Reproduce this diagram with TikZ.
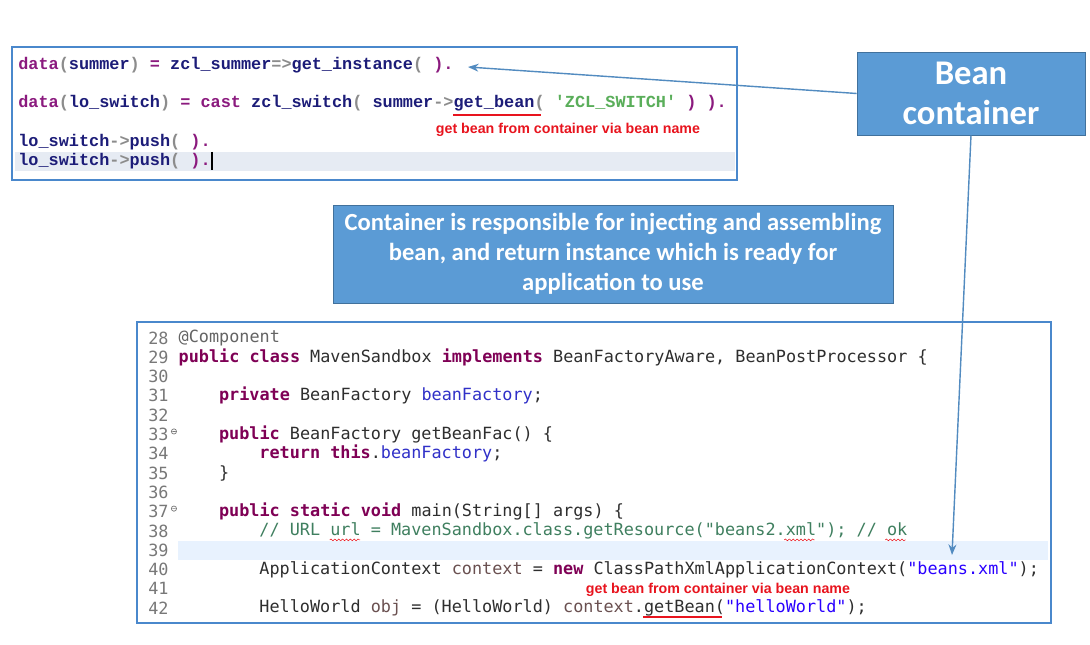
\documentclass[tikz,border=0pt]{standalone}
\usepackage{fontspec}
\setmonofont{DejaVu Sans Mono}
\newfontfamily\abapfont{Liberation Mono}
\newfontfamily\boxfont{Carlito}
\newfontfamily\notefont{Liberation Sans}
\usetikzlibrary{positioning,calc,arrows.meta,decorations.pathmorphing}

\definecolor{boxblue}{HTML}{5B9BD5}
\definecolor{boxedge}{HTML}{41719C}
\definecolor{framecol}{HTML}{4A88CC}
\definecolor{abapkw}{HTML}{8B1A7E}
\definecolor{abapid}{HTML}{1C1C78}
\definecolor{abapop}{HTML}{8C8C8C}
\definecolor{abapstr}{HTML}{5AAE5A}
\definecolor{javakw}{HTML}{7F0055}
\definecolor{javafld}{HTML}{3030C8}
\definecolor{javastr}{HTML}{2A00FF}
\definecolor{javacmt}{HTML}{3F7F5F}
\definecolor{javatxt}{HTML}{2E2E2E}
\definecolor{javavar}{HTML}{6A5050}
\definecolor{javaann}{HTML}{646464}
\definecolor{linenum}{HTML}{787878}
\definecolor{curline}{HTML}{E6EBF3}
\definecolor{curlinej}{HTML}{E8F2FE}
\definecolor{notered}{HTML}{E8141E}

\def\cw{10.1}
\def\abaptop{65}
\def\abapdy{19.2}
\def\javatop{338}
\def\javady{19.29}

\newcommand\akw[1]{{\color{abapkw}#1}}
\newcommand\aid[1]{{\color{abapid}#1}}
\newcommand\aop[1]{{\color{abapop}#1}}
\newcommand\astr[1]{{\color{abapstr}#1}}
\newcommand\jkw[1]{{\color{javakw}\bfseries #1}}
\newcommand\jfld[1]{{\color{javafld}#1}}
\newcommand\jstr[1]{{\color{javastr}#1}}
\newcommand\jvar[1]{{\color{javavar}#1}}

\tikzset{
  abap/.style={anchor=west, inner sep=0, font=\abapfont\bfseries\fontsize{9.6}{11}\selectfont},
  java/.style={anchor=west, inner sep=0, text=javatxt, font=\ttfamily\fontsize{9.57}{11}\selectfont},
  lnum/.style={java, text=linenum},
  codeframe/.style={draw=framecol, line width=1.7pt},
  bluebox/.style={draw=boxedge, fill=boxblue, text=white, align=center, inner sep=0,
    font=\boxfont\bfseries},
  note/.style={text=notered, inner sep=0, font=\notefont\bfseries\fontsize{8.1}{9}\selectfont},
  redline/.style={draw=notered, line width=1.2pt},
  squiggle/.style={draw=notered, line width=0.3pt, decorate,
    decoration={snake, amplitude=0.5pt, segment length=2.2pt}},
  conn/.style={draw=boxblue!90!black, line width=0.8pt, -{Stealth[length=6pt,width=4.5pt]}},
}

\begin{document}
\begin{tikzpicture}[x=0.02cm, y=-0.02cm]
  \useasboundingbox[fill=white] (0,0) rectangle (1090,645);

  % ABAP editor
  \fill[curline] (15,152) rectangle (735,171);
  \draw[codeframe] (12,47) rectangle (737,180);
  \node[abap] (ab1) at (18,\abaptop) {\akw{data}\aop{(}\aid{summer}\aop{)} \akw{=} \aid{zcl\_summer}\aop{=>}\aid{get\_instance}\aop{(} \akw{).}};
  \node[abap] (ab2) at (18,\abaptop+2*\abapdy) {\akw{data}\aop{(}\aid{lo\_switch}\aop{)} \akw{=} \akw{cast} \aid{zcl\_switch}\aop{(} \aid{summer}\aop{->}\aid{get\_bean}\aop{(} \astr{\textquotesingle ZCL\_SWITCH\textquotesingle} \akw{) ).}};
  \node[abap] (ab3) at (18,\abaptop+4*\abapdy) {\aid{lo\_switch}\aop{->}\aid{push}\aop{(} \akw{).}};
  \node[abap] (ab4) at (18,\abaptop+5*\abapdy) {\aid{lo\_switch}\aop{->}\aid{push}\aop{(} \akw{).}};
  \draw[line width=0.9pt] (212,152) -- (212,170);
  \draw[redline] (453,115) -- (541,115);
  \node[note] (note1) at (568,130) {get bean from container via bean name};

  % boxes
  \node[bluebox, minimum width=4.56cm, minimum height=1.66cm, font=\boxfont\bfseries\fontsize{19.7}{23}\selectfont]
    (bean) at (971,93.5) {Bean\\container};
  \node[bluebox, minimum width=11.2cm, minimum height=1.96cm, font=\boxfont\bfseries\fontsize{14}{17}\selectfont]
    (resp) at (613,254) {Container is responsible for injecting and assembling\\bean, and return instance which is ready for\\application to use};

  % Java editor
  \fill[curlinej] (178,{\javatop+11*\javady-9.6}) rectangle (1048,{\javatop+11*\javady+9.6});
  \draw[codeframe] (137,322) rectangle (1051,623);
  \foreach \n in {28,...,42}
    \node[lnum] (ln\n) at (148,{\javatop+(\n-28)*\javady}) {\n};
  \foreach \n in {33,37}
    \draw[linenum, line width=0.4pt] ($(ln\n.east)+(5,-3)$) circle (2.6)
      ++(-1.6,0) -- ++(3.2,0);

  \node[java] (jc28) at ($(ln28.west)+(3*\cw,0)$) {{\color{javaann}@Component}};
  \node[java] (jc29) at ($(ln29.west)+(3*\cw,0)$) {\jkw{public} \jkw{class} MavenSandbox \jkw{implements} BeanFactoryAware, BeanPostProcessor \{};
  \node[java] (jc31) at ($(ln31.west)+(7*\cw,0)$) {\jkw{private} BeanFactory \jfld{beanFactory};};
  \node[java] (jc33) at ($(ln33.west)+(7*\cw,0)$) {\jkw{public} BeanFactory getBeanFac() \{};
  \node[java] (jc34) at ($(ln34.west)+(11*\cw,0)$) {\jkw{return} \jkw{this}.\jfld{beanFactory};};
  \node[java] (jc35) at ($(ln35.west)+(7*\cw,0)$) {\}};
  \node[java] (jc37) at ($(ln37.west)+(7*\cw,0)$) {\jkw{public} \jkw{static} \jkw{void} main(String[] args) \{};
  \node[java, text=javacmt] (jc38) at ($(ln38.west)+(11*\cw,0)$) {// URL url = MavenSandbox.class.getResource("beans2.xml"); // ok};
  \node[java] (jc40) at ($(ln40.west)+(11*\cw,0)$) {ApplicationContext \jvar{context} = \jkw{new} ClassPathXmlApplicationContext(\jstr{"beans.xml"});};
  \node[java] (jc42) at ($(ln42.west)+(11*\cw,0)$) {HelloWorld \jvar{obj} = (HelloWorld) \jvar{context}.getBean(\jstr{"helloWorld"});};

  \draw[squiggle] ($(jc38.west)+(7*\cw,9)$) -- ++(3*\cw,0);
  \draw[squiggle] ($(jc38.west)+(52*\cw,9)$) -- ++(3*\cw,0);
  \draw[squiggle] ($(jc38.west)+(62*\cw,9)$) -- ++(2*\cw,0);
  \draw[redline] (643,617) -- (722,617);
  \node[note] (note2) at (718,590) {get bean from container via bean name};

  % connectors
  \coordinate (insttip) at (468,67);
  \coordinate (ctxtip) at (952,555);
  \draw[conn] (bean.west) -- (insttip);
  \draw[conn] (bean.south) -- (ctxtip);
\end{tikzpicture}
\end{document}
